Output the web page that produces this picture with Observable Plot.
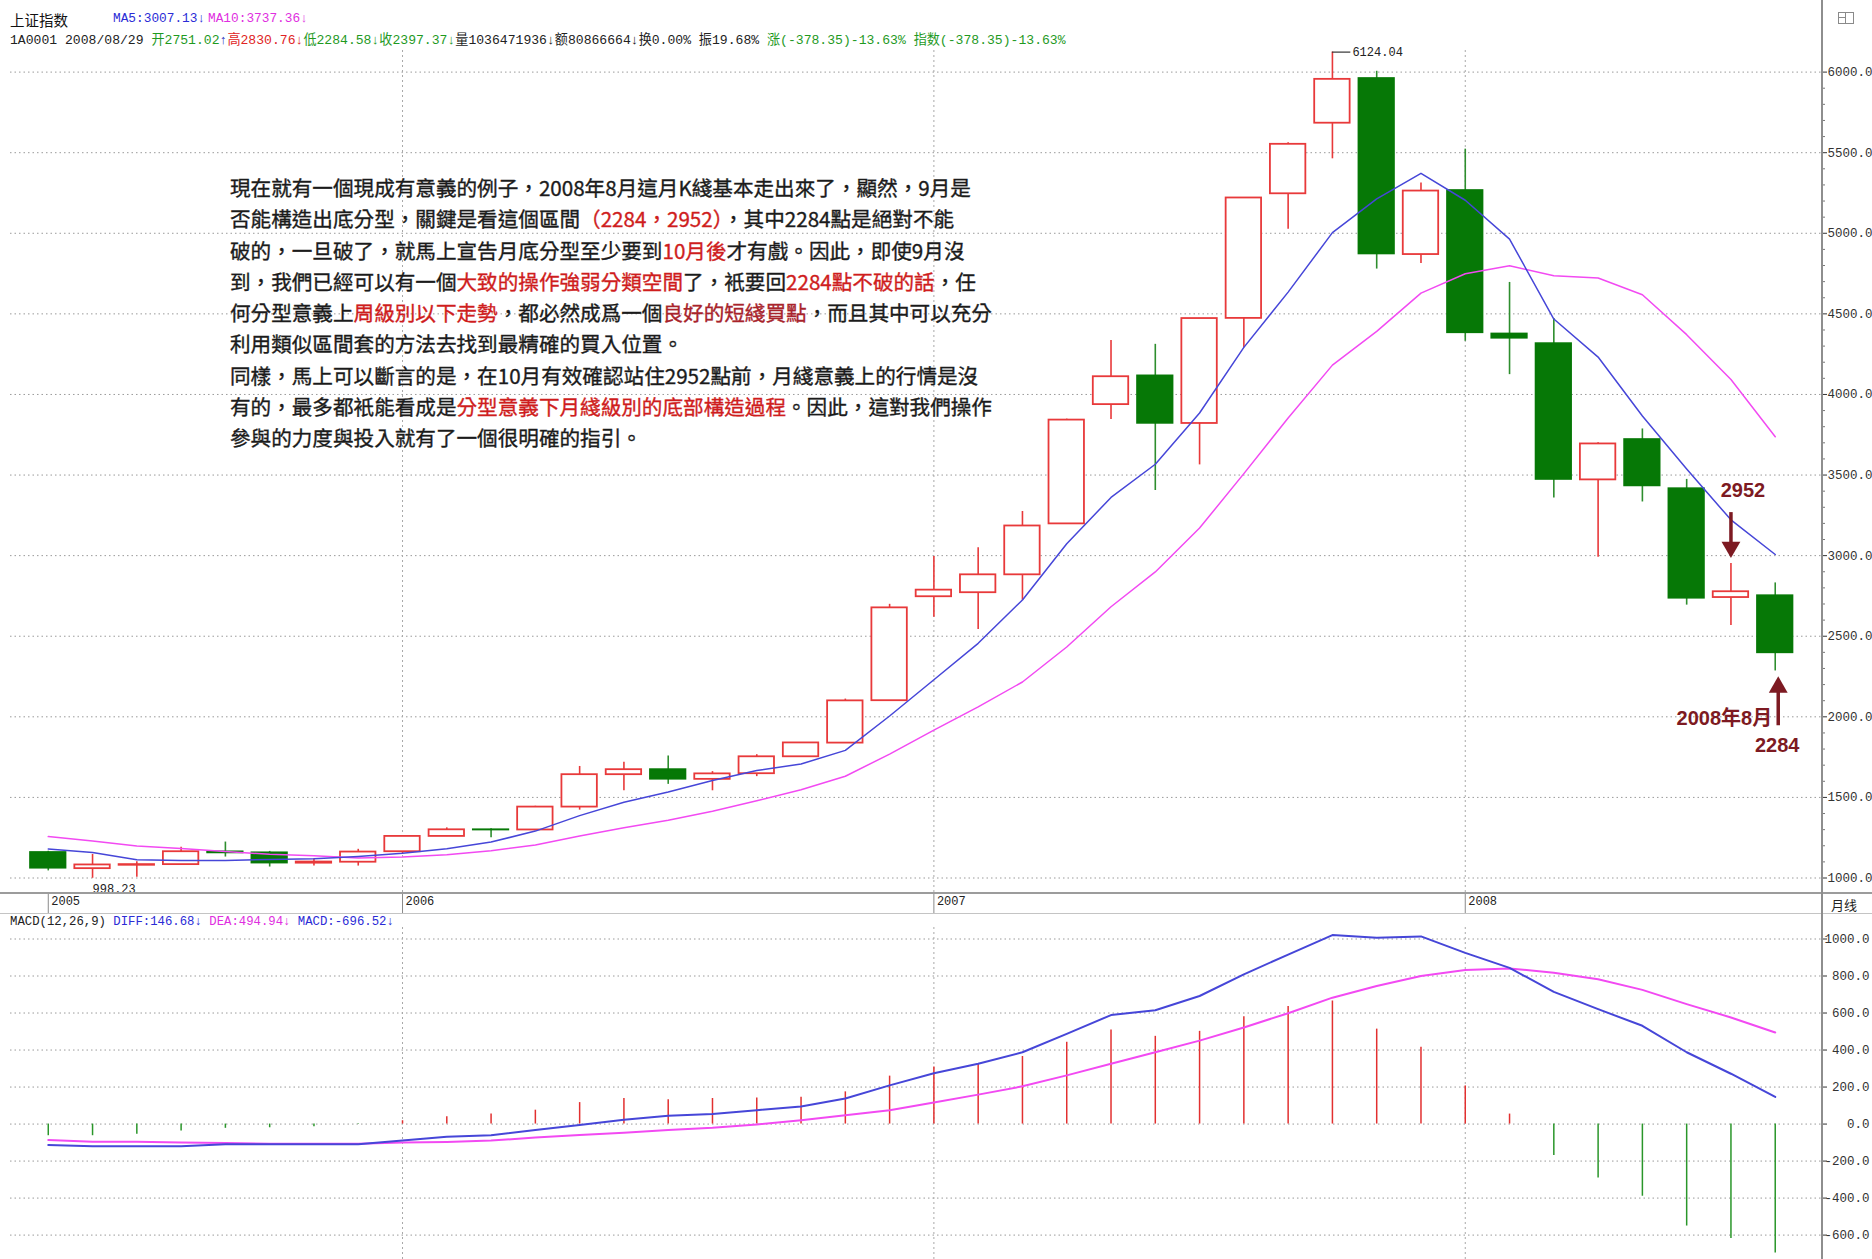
<!DOCTYPE html>
<html>
<head>
<meta charset="utf-8">
<script src="https://cdn.jsdelivr.net/npm/d3@7"></script>
<script src="https://cdn.jsdelivr.net/npm/@observablehq/plot@0.6"></script>
<style>
  html, body { margin: 0; padding: 0; background: #fff; }
  #wrap { position: relative; width: 1872px; height: 1259px; overflow: hidden; background: #fff; }
  .abs { position: absolute; white-space: nowrap; }
  .mono { font-family: "Liberation Mono", "Noto Sans CJK SC", monospace; }
  .cjk { font-family: "Noto Sans CJK SC", sans-serif; }
  #note { font-family: "Noto Sans CJK TC", "Noto Sans CJK SC", sans-serif; font-size: 20.6px; line-height: 31.3px; color: #1b1b1b; -webkit-text-stroke: 0.35px currentColor; }
  #note .r { color: #cf1d1d; }
  #note .d { color: #a8232b; }
  .plot { position: absolute; left: 0; }
</style>
</head>
<body>
<div id="wrap">
  <div id="pricePlot" class="plot" style="top:0px"></div>
  <div id="macdPlot" class="plot" style="top:915px"></div>

  <!-- separators and right axis line -->
  <div class="abs" style="left:0;top:892px;width:1872px;height:2px;background:#9c9c9c"></div>
  <div class="abs" style="left:0;top:913px;width:1872px;height:1px;background:#c4c4c4"></div>
  <div class="abs" style="left:1821px;top:0;width:1.5px;height:1259px;background:#8e8e8e"></div>
  <div class="abs" style="left:1838px;top:12px;width:14px;height:10px;border:1px solid #8a8a8a"><div style="position:absolute;left:6px;top:0;width:1px;height:10px;background:#8a8a8a"></div><div style="position:absolute;left:0;top:4px;width:6px;height:1px;background:#8a8a8a"></div></div>

  <!-- header -->
  <div class="abs cjk" style="left:10px;top:9px;font-size:14.5px;color:#111">上证指数</div>
  <div class="abs mono" style="left:113px;top:11px;font-size:12.8px;color:#2b2bd6">MA5:3007.13↓</div>
  <div class="abs mono" style="left:208px;top:11px;font-size:12.8px;color:#e02ee0">MA10:3737.36↓</div>
  <div class="abs mono" style="left:10px;top:29px;font-size:13.1px;color:#222">1A0001 2008/08/29 <span style="color:#1f9a1f">开2751.02</span><span style="color:#3030c0">↑</span><span style="color:#e02424">高2830.76↓</span><span style="color:#1f9a1f">低2284.58↓收2397.37↓</span><span>量1036471936↓额80866664↓换0.00% 振19.68% </span><span style="color:#1f9a1f">涨(-378.35)-13.63% 指数(-378.35)-13.63%</span></div>

  <!-- x axis row right label -->
  <div class="abs cjk" style="left:1831px;top:895px;font-size:13px;color:#222">月线</div>

  <!-- MACD header -->
  <div class="abs mono" style="left:10px;top:915px;font-size:12.3px;color:#222">MACD(12,26,9) <span style="color:#2b2bd6">DIFF:146.68↓</span> <span style="color:#e02ee0">DEA:494.94↓</span> <span style="color:#2b2bd6">MACD:-696.52↓</span></div>

  <!-- commentary text -->
  <div id="note" class="abs" style="left:230px;top:172px">
現在就有一個現成有意義的例子，2008年8月這月K綫基本走出來了，顯然，9月是<br>
否能構造出底分型，關鍵是看這個區間<span class="r">（2284，2952）</span>，其中2284點是絕對不能<br>
破的，一旦破了，就馬上宣告月底分型至少要到<span class="r">10月後</span>才有戲。因此，即使9月沒<br>
到，我們已經可以有一個<span class="r">大致的操作強弱分類空間</span>了，衹要回<span class="r">2284點不破的話</span>，任<br>
何分型意義上<span class="r">周級別以下走勢</span>，都必然成爲一個<span class="d">良好的短綫買點</span>，而且其中可以充分<br>
利用類似區間套的方法去找到最精確的買入位置。<br>
同樣，馬上可以斷言的是，在10月有效確認站住2952點前，月綫意義上的行情是沒<br>
有的，最多都衹能看成是<span class="r">分型意義下月綫級別的底部構造過程</span>。因此，這對我們操作<br>
參與的力度與投入就有了一個很明確的指引。
  </div>
</div>

<script>
// ---------- data (monthly, Shanghai Composite, May 2005 – Aug 2008) ----------
const months = [
  "2005-05","2005-06","2005-07","2005-08","2005-09","2005-10","2005-11","2005-12",
  "2006-01","2006-02","2006-03","2006-04","2006-05","2006-06","2006-07","2006-08","2006-09","2006-10","2006-11","2006-12",
  "2007-01","2007-02","2007-03","2007-04","2007-05","2007-06","2007-07","2007-08","2007-09","2007-10","2007-11","2007-12",
  "2008-01","2008-02","2008-03","2008-04","2008-05","2008-06","2008-07","2008-08"
];
const open  = [1158,1058,1079,1083,1162,1156,1092,1098, 1163,1258,1299,1298,1440,1641,1672,1612,1647,1752,1837,2100, 2745,2770,2881,3197,3937,4115,3820,4472,5245,5683,5960,4868, 5265,4375,4315,3470,3720,3415,2740,2751.02];
const high  = [1166,1146,1101,1191,1223,1165,1120,1178, 1263,1311,1306,1445,1692,1718,1757,1660,1765,1839,2110,2698, 2994,3049,3274,3847,4335,4311,4471,5219,5562,6124.04,6005,5312, 5522,4695,4472,3700,3786,3473,2952,2830.76];
const low   = [1044,998.23,1004,1078,1130,1068,1074,1074, 1151,1257,1250,1293,1421,1541,1581,1541,1629,1750,1837,2100, 2617,2541,2723,3196,3845,3404,3563,4290,5025,5462,4778,4812, 4330,4123,3357,2990,3333,2693,2566,2284.58];
const close = [1061,1081,1083,1163,1156,1093,1099,1161, 1258,1299,1298,1440,1641,1672,1613,1646,1752,1838,2099,2676, 2786,2881,3184,3841,4110,3821,4471,5219,5552,5955,4872,5262, 4383,4349,3473,3693,3433,2736,2776,2397.37];
const ma5   = [1180,1158,1113,1109,1109,1115,1119,1134, 1153,1182,1223,1291,1387,1470,1533,1605,1667,1707,1792,2005, 2230,2456,2725,3074,3361,3567,3885,4292,4635,5004,5214,5372, 5205,4964,4468,4232,3866,3537,3222,3007.13];
const ma10  = [1257,1230,1199,1183,1165,1147,1138,1124, 1131,1145,1169,1205,1261,1312,1358,1414,1479,1547,1631,1769, 1918,2062,2216,2433,2683,2899,3171,3509,3854,4182,4391,4629, 4749,4799,4736,4723,4619,4371,4093,3737.36];
const diff  = [-113,-120,-120,-120,-109,-109,-109,-109, -89,-68,-61,-32,-5,23,45,55,75,95,138,209, 275,326,388,487,589,615,692,809,916,1021,1007,1014, 925,844,714,621,531,388,272,146.68];
const dea   = [-86,-95,-95,-100,-102,-106,-106,-106, -100,-97,-89,-73,-59,-47,-32,-20,-2,21,48,75, 116,159,204,263,326,388,451,522,599,683,746,800, 832,841,818,782,725,648,576,494.94];
const macdHist = [-63,-63,-55,-38,-23,-20,-14,-3, 18,39,54,75,116,138,132,138,141,145,174,259, 308,326,365,442,508,474,501,580,635,665,513,415, 206,54,-170,-292,-390,-551,-619,-696.52];

const priceTicks = [1000,1500,2000,2500,3000,3500,4000,4500,5000,5500,6000];
const priceMinor = [1100,1200,1300,1400,1600,1700,1800,1900,2100,2200,2300,2400,2600,2700,2800,2900,3100,3200,3300,3400,3600,3700,3800,3900,4100,4200,4300,4400,4600,4700,4800,4900,5100,5200,5300,5400,5600,5700,5800,5900];
const macdTicks = [-600,-400,-200,0,200,400,600,800,1000];
const yearGrid = ["2006-01","2007-01","2008-01"];
const yearMonths = ["2005-05","2006-01","2007-01","2008-01"];
const yearLabels = ["2005","2006","2007","2008"];

const peakNote = [{m: "2007-10", v: 6124.04, label: "6124.04"}];
const troughNote = [{m: "2005-06", v: 998.23, label: "998.23"}];
const downNote = [{m: "2008-07", v: 2952, label: "2952"}];
const upNote = [{m: "2008-08", v: 2284.58, label: "2284", month: "2008年8月"}];

// ---------- build rows ----------
const rows = months.map((m, i) => ({
  m, o: open[i], h: high[i], l: low[i], c: close[i],
  ma5: ma5[i], ma10: ma10[i], diff: diff[i], dea: dea[i], hist: macdHist[i]
}));
const years = yearMonths.map((m, i) => ({m, label: yearLabels[i]}));

const RED = "#e8393a", GREEN = "#067806", WICKGREEN = "#2e8e2e";
const BLUE = "#4646d8", MAG = "#f24af2", DARKRED = "#7d1a22";
const up = d => d.c >= d.o;

const xOpts = {type: "band", domain: months, range: [21.2, 1801.3], padding: 0.2, round: false, axis: null};
const dotted = {stroke: "#9a9a9a", strokeDasharray: "1.5,3"};
const vgrid = {stroke: "#a8a8a8", strokeDasharray: "2,3"};
const baseStyle = {fontFamily: "Liberation Mono, monospace", fontSize: "12px", background: "transparent", overflow: "visible"};

const price = Plot.plot({
  width: 1872, height: 915,
  marginTop: 50, marginBottom: 22, marginLeft: 10, marginRight: 51,
  x: xOpts,
  y: {domain: [1000, 6000], range: [877.5, 71.6]},
  style: baseStyle,
  marks: [
    Plot.ruleY(priceTicks, dotted),
    Plot.ruleX(yearGrid, {x: d => d, ...vgrid}),
    Plot.ruleX(years, {x: "m", stroke: "#8a8a8a", insetTop: 843, insetBottom: -20}),
    Plot.text(years, {x: "m", text: "label", frameAnchor: "bottom", dy: 11, dx: 3, textAnchor: "start", fontSize: 12, fill: "#222"}),
    Plot.axisY({ticks: priceTicks, anchor: "right", tickSize: 5, tickPadding: 1, tickFormat: d => d.toFixed(1), fontSize: 12.5, color: "#333"}),
    Plot.axisY({ticks: priceMinor, anchor: "right", tickSize: 3, tickFormat: () => "", color: "#777"}),
    // wicks
    Plot.ruleX(rows, {x: "m", y1: "l", y2: "h", stroke: d => up(d) ? RED : WICKGREEN, strokeWidth: 1.6}),
    // bodies
    Plot.barY(rows, {x: "m", y1: "o", y2: "c", fill: d => up(d) ? "#ffffff" : GREEN, stroke: d => up(d) ? RED : GREEN, strokeWidth: 1.8}),
    // moving averages
    Plot.line(rows, {x: "m", y: "ma10", stroke: MAG, strokeWidth: 1.5}),
    Plot.line(rows, {x: "m", y: "ma5", stroke: BLUE, strokeWidth: 1.5}),
    // peak & trough labels
    Plot.tickY(peakNote, {x: "m", y: "v", dx: 17.7, insetRight: 17, stroke: "#333", strokeWidth: 1.2}),
    Plot.text(peakNote, {x: "m", y: "v", text: "label", dx: 20, textAnchor: "start", fontSize: 12, fill: "#222"}),
    Plot.text(troughNote, {x: "m", y: "v", text: "label", dy: 11, dx: 0, textAnchor: "start", fontSize: 12, fill: "#222"}),
    // 2952 down arrow
    Plot.ruleX(downNote, {x: "m", y1: d => d.v + 315, y2: d => d.v + 120, stroke: DARKRED, strokeWidth: 3.5}),
    Plot.dot(downNote, {x: "m", y: d => d.v + 70, dy: -5, symbol: "triangle", rotate: 180, r: 7, fill: DARKRED, stroke: "none"}),
    Plot.text(downNote, {x: "m", y: "v", text: "label", dy: -73, dx: 12, fontSize: 20, fontWeight: "bold", fill: DARKRED, fontFamily: "Liberation Sans, Arial, sans-serif"}),
    // 2284 up arrow
    Plot.ruleX(upNote, {x: "m", y1: d => d.v - 340, y2: d => d.v - 120, dx: 3, stroke: DARKRED, strokeWidth: 3.5}),
    Plot.dot(upNote, {x: "m", y: d => d.v - 70, dy: 5, dx: 3, symbol: "triangle", r: 7, fill: DARKRED, stroke: "none"}),
    Plot.text(upNote, {x: "m", y: "v", text: "month", dy: 48, dx: -3, textAnchor: "end", fontSize: 20, fontWeight: "bold", fill: DARKRED, fontFamily: "Liberation Sans, Noto Sans CJK SC, sans-serif"}),
    Plot.text(upNote, {x: "m", y: "v", text: "label", dy: 75, dx: 2, fontSize: 20, fontWeight: "bold", fill: DARKRED, fontFamily: "Liberation Sans, Arial, sans-serif"})
  ]
});
document.getElementById("pricePlot").appendChild(price);

const macd = Plot.plot({
  width: 1872, height: 344,
  marginTop: 12, marginBottom: 0, marginLeft: 10, marginRight: 51,
  x: xOpts,
  y: {domain: [-600, 1000], range: [319.6, 23.5]},
  style: baseStyle,
  marks: [
    Plot.ruleY(macdTicks, dotted),
    Plot.ruleX(yearGrid, {x: d => d, ...vgrid}),
    Plot.axisY({ticks: macdTicks, anchor: "right", tickSize: 5, tickPadding: 43, textAnchor: "end", tickFormat: d => d.toFixed(1), fontSize: 12.5, color: "#333"}),
    Plot.ruleX(rows, {x: "m", y1: 0, y2: "hist", stroke: d => d.hist >= 0 ? "#e23030" : "#2a962a", strokeWidth: 1.5}),
    Plot.line(rows, {x: "m", y: "dea", stroke: MAG, strokeWidth: 2}),
    Plot.line(rows, {x: "m", y: "diff", stroke: BLUE, strokeWidth: 2})
  ]
});
document.getElementById("macdPlot").appendChild(macd);
</script>
</body>
</html>
